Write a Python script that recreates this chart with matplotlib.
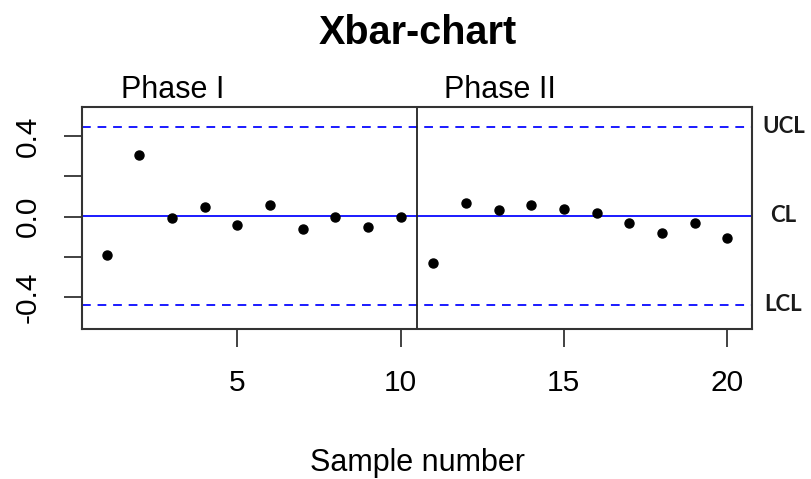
import numpy as np
import matplotlib.pyplot as plt

plt.rcParams['font.family'] = ['Liberation Sans', 'DejaVu Sans']

# sample means for phase I and phase II
phase1_x = list(range(1, 11))
phase1_y = [-0.189, 0.308, -0.008, 0.050, -0.041, 0.060, -0.060, 0.000, -0.050, 0.000]
phase2_x = list(range(11, 21))
phase2_y = [-0.229, 0.070, 0.032, 0.060, 0.040, 0.020, -0.030, -0.080, -0.030, -0.108]

center = 0.005
ucl = 0.447
lcl = -0.437
limit_labels = ["UCL", "CL", "LCL"]
limit_values = [ucl, center, lcl]

fig = plt.figure(figsize=(8.12, 4.79), dpi=100)
ax = fig.add_axes([0.1006, 0.3138, 0.8255, 0.4634])

ax.axhline(center, color='#1a1aff', lw=1.4)
for v in (ucl, lcl):
    ax.axhline(v, color='#1a1aff', lw=1.4, linestyle=(0, (4.5, 3.5)))

ax.plot(phase1_x + phase2_x, phase1_y + phase2_y, 'o', color='black', ms=6.5, ls='none')
ax.axvline(10.5, color='#222222', lw=1.3)

ax.set_xlim(0.24, 20.76)
ax.set_ylim(-0.557, 0.547)
ax.set_xticks([5, 10, 15, 20])
ax.set_yticks([-0.4, -0.2, 0.0, 0.2, 0.4])
ax.set_yticklabels(["-0.4", "", "0.0", "", "0.4"], rotation=90, va='center')
ax.tick_params(labelsize=21.5, length=13, width=1.3, color='#333333', pad=16)
for s in ax.spines.values():
    s.set_linewidth(1.5)
    s.set_color('#333333')

fig.text(0.514, 1 - 471 / 479, "Sample number", fontsize=22, ha='center', va='baseline')
fig.text(0.514, 1 - 44 / 479, "Xbar-chart", fontsize=28.5, fontweight='bold',
         ha='center', va='baseline')

ax.text(1.43, 0.59, "Phase I", fontsize=22, ha='left', va='baseline')
ax.text(11.32, 0.59, "Phase II", fontsize=22, ha='left', va='baseline')

for lab, v in zip(limit_labels, limit_values):
    ax.text(21.72, v, lab, fontsize=16, fontweight='bold', family=['Lato', 'DejaVu Sans'],
            ha='center', va='center', color='#1a1a1a')

fig.savefig("out.png", dpi=100)
